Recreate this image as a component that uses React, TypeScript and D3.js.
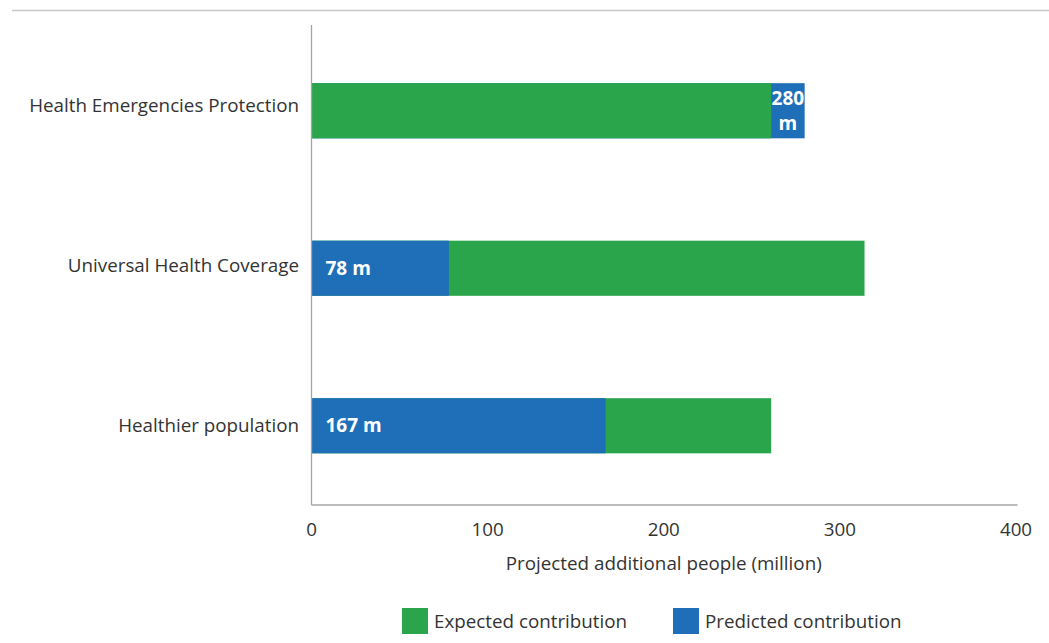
import React from "react";
import * as d3 from "d3";

// Categories and series values (million people)
const categories = [
  "Health Emergencies Protection",
  "Universal Health Coverage",
  "Healthier population",
];
const expectedValues = [261, 314, 261];
const predictedValues = [280, 78, 167];
const xTicks = [0, 100, 200, 300, 400];
const seriesNames = ["Expected contribution", "Predicted contribution"];

const W = 1049;
const H = 643;
const GREEN = "#2aa54b";
const BLUE = "#1f6fb8";
const TEXT = "#333333";
const AXIS = "#a6a6a6";
const FONT = "'Open Sans', sans-serif";

export default function App() {
  const x = d3.scaleLinear().domain([0, 400]).range([311.5, 1016]);
  const yLabel = d3.scaleBand<string>().domain(categories).range([25, 505]);
  const yBar = d3
    .scaleBand<string>()
    .domain(categories)
    .range([32, 504.5])
    .paddingInner(0.65)
    .paddingOuter(0.325);

  const labelPad = 14;
  const fontSize = 18.8;
  const boldSize = 19;

  return (
    <svg
      width={W}
      height={H}
      style={{ position: "absolute", left: 0, top: 0, background: "#fff" }}
      fontFamily={FONT}
    >
      <line x1={12} x2={W} y1={10.5} y2={10.5} stroke="#c8c8c8" strokeWidth={1.5} />

      {/* bars: the longer series sits behind the shorter one */}
      {categories.map((c, i) => {
        const e = expectedValues[i];
        const p = predictedValues[i];
        const y0 = yBar(c)!;
        const bh = yBar.bandwidth();
        const layers =
          e >= p
            ? [
                { v: e, color: GREEN },
                { v: p, color: BLUE },
              ]
            : [
                { v: p, color: BLUE },
                { v: e, color: GREEN },
              ];
        // visible part of the predicted bar
        const segStart = e >= p ? x(0) : x(e);
        const segEnd = x(p);
        const segW = segEnd - segStart;
        const label = `${p} m`;
        const approxW = label.length * boldSize * 0.6;
        const fits = segW > approxW + labelPad * 2;
        const cy = y0 + bh / 2;
        return (
          <g key={c}>
            {layers.map((l, k) => (
              <rect
                key={k}
                x={x(0)}
                y={y0}
                width={x(l.v) - x(0)}
                height={bh}
                fill={l.color}
              />
            ))}
            {fits ? (
              <text
                x={segStart + labelPad}
                y={cy}
                dy="0.35em"
                fill="#fff"
                fontWeight={700}
                fontSize={boldSize}
              >
                {label}
              </text>
            ) : (
              <text
                x={(segStart + segEnd) / 2}
                y={cy}
                textAnchor="middle"
                fill="#fff"
                fontWeight={700}
                fontSize={boldSize}
              >
                {label.split(" ").map((w, k, arr) => (
                  <tspan
                    key={k}
                    x={(segStart + segEnd) / 2}
                    dy={k === 0 ? -((arr.length - 1) * 25) / 2 + 0.35 * boldSize : 25}
                  >
                    {w}
                  </tspan>
                ))}
              </text>
            )}
          </g>
        );
      })}

      {/* axes */}
      <line x1={x(0)} x2={x(0)} y1={25} y2={505} stroke={AXIS} strokeWidth={1.3} />
      <line x1={x(0)} x2={1017.5} y1={505} y2={505} stroke={AXIS} strokeWidth={1.3} />

      {categories.map((c) => (
        <text
          key={c}
          x={299}
          y={yLabel(c)! + yLabel.bandwidth() / 2}
          dy="0.35em"
          textAnchor="end"
          fill={TEXT}
          fontSize={fontSize}
        >
          {c}
        </text>
      ))}

      {xTicks.map((t) => (
        <text
          key={t}
          x={x(t)}
          y={536}
          textAnchor="middle"
          fill={TEXT}
          fontSize={fontSize}
        >
          {t}
        </text>
      ))}
      <text
        x={(x(0) + x(400)) / 2}
        y={570}
        textAnchor="middle"
        fill={TEXT}
        fontSize={fontSize}
      >
        Projected additional people (million)
      </text>

      {/* legend */}
      {seriesNames.map((s, i) => {
        const lx = [402, 673][i];
        return (
          <g key={s}>
            <rect x={lx} y={608} width={26} height={26} fill={i === 0 ? GREEN : BLUE} />
            <text x={lx + 32} y={628} fill={TEXT} fontSize={fontSize}>
              {s}
            </text>
          </g>
        );
      })}
    </svg>
  );
}
